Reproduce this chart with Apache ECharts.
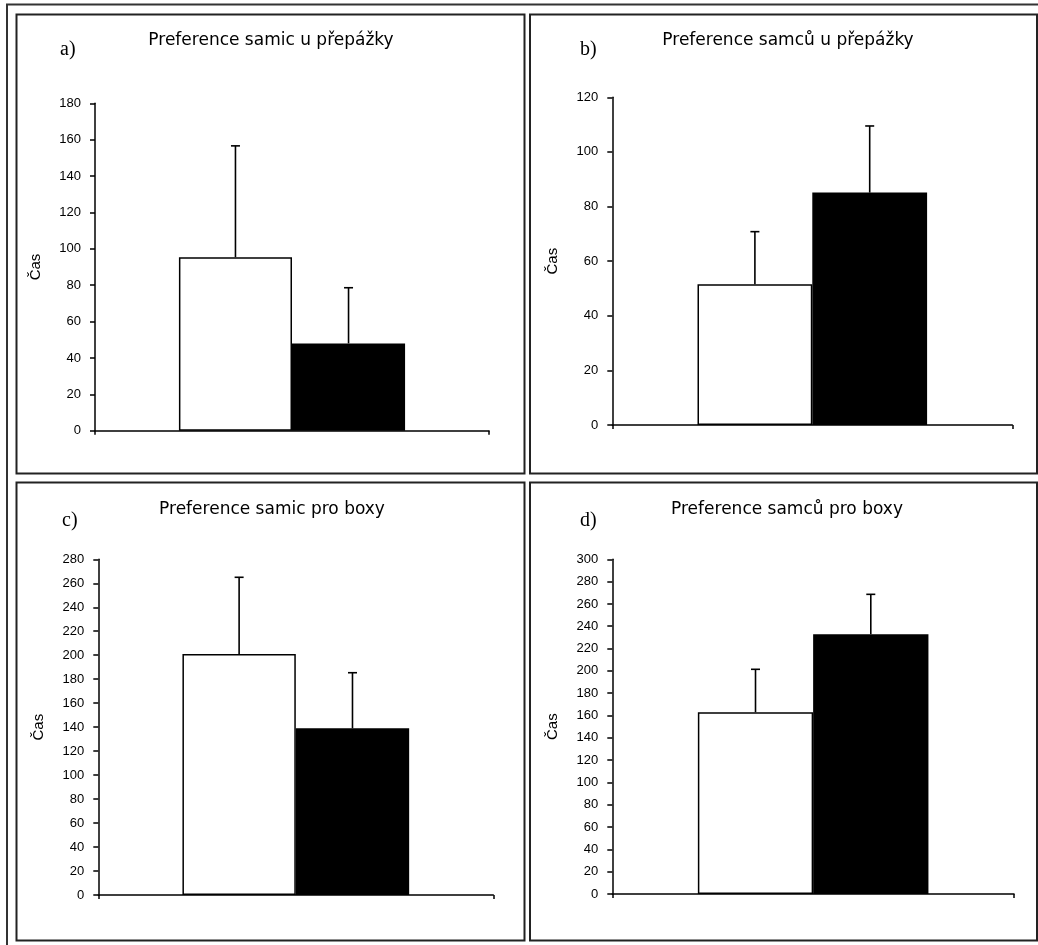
<!DOCTYPE html>
<html>
<head>
<meta charset="utf-8">
<script src="https://cdn.jsdelivr.net/npm/echarts@6/dist/echarts.min.js"></script>
<style>html,body{margin:0;padding:0;background:#fff;}#main{width:1038px;height:945px;}</style>
</head>
<body>
<div id="main"></div>
<script>
// ---- data ----
const panelLabels = ['a)', 'b)', 'c)', 'd)'];
const panelTitles = ['Preference samic u přepážky', 'Preference samců u přepážky', 'Preference samic pro boxy', 'Preference samců pro boxy'];
const yAxisName = 'Čas';
const categories = [''];
// [white bar, black bar]
const meansA = [95.4, 48.0];
const errA = [61.2, 30.6];
const meansB = [51.5, 85.1];
const errB = [19.3, 24.4];
const meansC = [201, 139];
const errC = [64, 46.4];
const meansD = [162.9, 232.8];
const errD = [38.5, 35.8];
const yMaxes = [180, 120, 280, 300];
const yInterval = 20;

// ---- layout ----
const grids = [
  {left: 95, top: 103.3, width: 394, height: 327.4},
  {left: 612.3, top: 97.3, width: 400, height: 327.7},
  {left: 98.3, top: 559.3, width: 395, height: 335.7},
  {left: 612.3, top: 559.3, width: 401.7, height: 334.7}
];
const panels = [
  {x: 16.5, y: 14.5, w: 508, h: 459},
  {x: 530, y: 14.5, w: 507, h: 459},
  {x: 16.5, y: 482.5, w: 508, h: 458},
  {x: 530, y: 482.5, w: 507, h: 458}
];
const titleCenters = [266, 783, 267, 782];
const titleTops = [27, 27, 496, 496];
const labelPos = [[60, 50], [580, 50], [62, 521], [580, 521]];
const BAR_W = 0.287;

const allMeans = [meansA, meansB, meansC, meansD];
const allErr = [errA, errB, errC, errD];

const option = {
  animation: false,
  backgroundColor: '#fff',
  title: panelTitles.map((t, i) => ({
    text: t, left: titleCenters[i], top: titleTops[i], textAlign: 'center',
    textStyle: {fontFamily: 'DejaVu Sans', fontSize: 17, fontWeight: 'normal', color: '#000'}
  })),
  grid: grids.map(g => Object.assign({containLabel: false}, g)),
  xAxis: grids.map((g, i) => ({
    type: 'category', gridIndex: i, data: categories,
    axisLine: {lineStyle: {color: '#000', width: 1.5}},
    axisTick: {show: true, length: 4, lineStyle: {color: '#000', width: 1.5}},
    axisLabel: {show: false},
    splitLine: {show: false}
  })),
  yAxis: grids.map((g, i) => ({
    type: 'value', gridIndex: i, min: 0, max: yMaxes[i], interval: yInterval,
    name: yAxisName, nameLocation: 'middle', nameGap: 52, nameRotate: 90,
    nameTextStyle: {fontFamily: 'Liberation Sans', fontSize: 15, color: '#000'},
    axisLine: {show: true, lineStyle: {color: '#000', width: 1.5}},
    axisTick: {show: true, length: 5, lineStyle: {color: '#000', width: 1.5}},
    axisLabel: {margin: 14, fontFamily: 'Liberation Sans', fontSize: 13, color: '#000'},
    splitLine: {show: false}
  })),
  series: [],
  graphic: []
};

allMeans.forEach((m, i) => {
  option.series.push({
    type: 'bar', xAxisIndex: i, yAxisIndex: i, data: [m[0]], barWidth: (BAR_W * 100) + '%', barGap: '0%',
    itemStyle: {color: '#fff', borderColor: '#000', borderWidth: 1.5}
  });
  option.series.push({
    type: 'bar', xAxisIndex: i, yAxisIndex: i, data: [m[1]], barWidth: (BAR_W * 100) + '%', barGap: '0%',
    itemStyle: {color: '#000', borderColor: '#000', borderWidth: 1.5}
  });
  option.series.push({
    type: 'custom', xAxisIndex: i, yAxisIndex: i, z: 5,
    data: [[0, m[0], allErr[i][0], -1], [0, m[1], allErr[i][1], 1]],
    renderItem: function (params, api) {
      const cat = api.value(0), mean = api.value(1), err = api.value(2), side = api.value(3);
      const band = api.size([1, 0])[0];
      const cx = api.coord([cat, 0])[0] + side * band * BAR_W / 2;
      const yb = api.coord([cat, mean])[1];
      const yt = api.coord([cat, mean + err])[1];
      const st = {stroke: '#000', lineWidth: 1.6};
      return {type: 'group', children: [
        {type: 'line', shape: {x1: cx, y1: yb, x2: cx, y2: yt}, style: st},
        {type: 'line', shape: {x1: cx - 4.5, y1: yt, x2: cx + 4.5, y2: yt}, style: st}
      ]};
    }
  });
});

// frame + panel borders + panel letters
option.graphic.push({type: 'rect', shape: {x: 7, y: 4.5, width: 1100, height: 1000}, style: {fill: 'none', stroke: '#333', lineWidth: 2}, silent: true});
panels.forEach(p => option.graphic.push({type: 'rect', shape: {x: p.x, y: p.y, width: p.w, height: p.h}, style: {fill: 'none', stroke: '#222', lineWidth: 2}, silent: true}));
panelLabels.forEach((t, i) => option.graphic.push({
  type: 'text', x: labelPos[i][0], y: labelPos[i][1],
  style: {text: t, fontFamily: 'Liberation Serif', fontSize: 20, fill: '#000', verticalAlign: 'middle', align: 'left'}
}));

const chart = echarts.init(document.getElementById('main'), null, {renderer: 'canvas'});
chart.setOption(option);
</script>
</body>
</html>
